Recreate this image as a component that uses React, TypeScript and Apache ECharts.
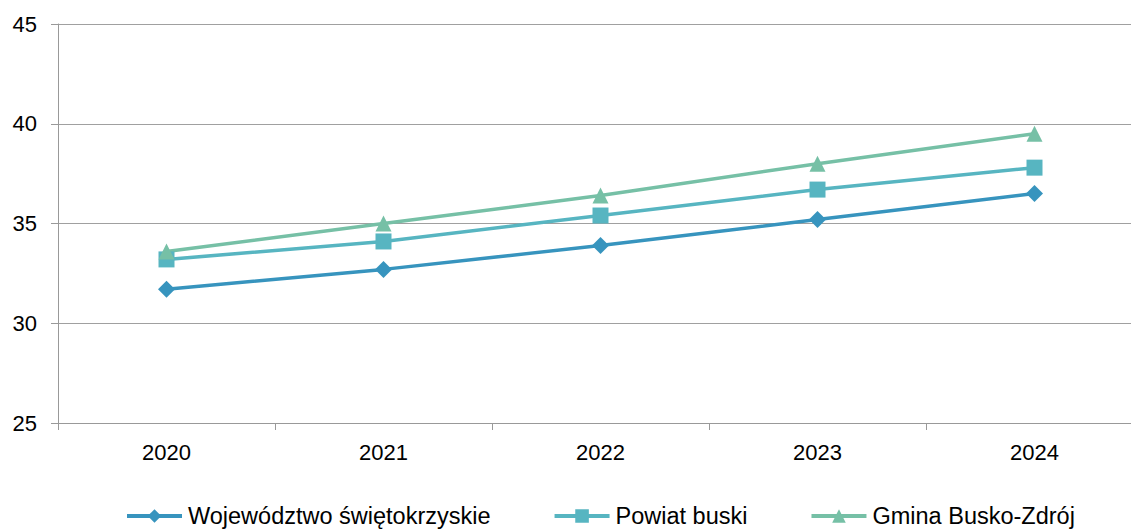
import React, { useEffect, useRef } from "react";
import * as echarts from "echarts";

const years = ["2020", "2021", "2022", "2023", "2024"];
const wojewodztwo = [31.7, 32.7, 33.9, 35.2, 36.5];
const powiat = [33.2, 34.1, 35.4, 36.7, 37.8];
const gmina = [33.6, 35.0, 36.4, 38.0, 39.5];
const seriesNames = ["Województwo świętokrzyskie", "Powiat buski", "Gmina Busko-Zdrój"];
const colors = ["#3794BE", "#57B5C1", "#76C0A6"];

export default function App() {
  const ref = useRef<HTMLDivElement>(null);
  useEffect(() => {
    if (!ref.current) return;
    const chart = echarts.init(ref.current, null, { renderer: "svg" });
    const font = "'Liberation Sans', Arial, sans-serif";
    const mk = (name: string, data: number[], color: string, symbol: string, size: number) => ({
      name,
      type: "line",
      data,
      symbol,
      symbolSize: size,
      lineStyle: { color, width: 3.5 },
      itemStyle: { color },
      color,
    });
    chart.setOption({
      animation: false,
      backgroundColor: "#ffffff",
      grid: { left: 58, top: 24, height: 399, width: 1085, outerBoundsMode: "none", containLabel: false },
      legend: {
        top: 504,
        left: 125,
        padding: 0,
        itemGap: 62,
        itemWidth: 55,
        itemHeight: 17,
        lineStyle: { width: 4 },
        textStyle: { fontFamily: font, fontSize: 23.5, color: "#000", padding: [0, 0, 0, 1] },
        data: seriesNames,
      },
      xAxis: {
        type: "category",
        data: years,
        boundaryGap: true,
        axisLine: { lineStyle: { color: "#999", width: 1 } },
        axisTick: { show: true, length: 7, lineStyle: { color: "#999" }, alignWithLabel: false },
        axisLabel: { color: "#000", fontFamily: font, fontSize: 22, margin: 18 },
      },
      yAxis: {
        type: "value",
        min: 25,
        max: 45,
        interval: 5,
        axisLine: { show: true, lineStyle: { color: "#999", width: 1 } },
        axisTick: { show: true, length: 7, lineStyle: { color: "#999" } },
        splitLine: { lineStyle: { color: "#a0a0a0", width: 1 } },
        axisLabel: { color: "#000", fontFamily: font, fontSize: 22, margin: 21 },
      },
      series: [
        mk(seriesNames[0], wojewodztwo, colors[0], "diamond", 17),
        mk(seriesNames[1], powiat, colors[1], "rect", 16),
        mk(seriesNames[2], gmina, colors[2], "triangle", 16),
      ],
    });
    return () => chart.dispose();
  }, []);
  return (
    <div
      ref={ref}
      style={{ position: "absolute", left: 0, top: 0, width: 1131, height: 530 }}
    />
  );
}
